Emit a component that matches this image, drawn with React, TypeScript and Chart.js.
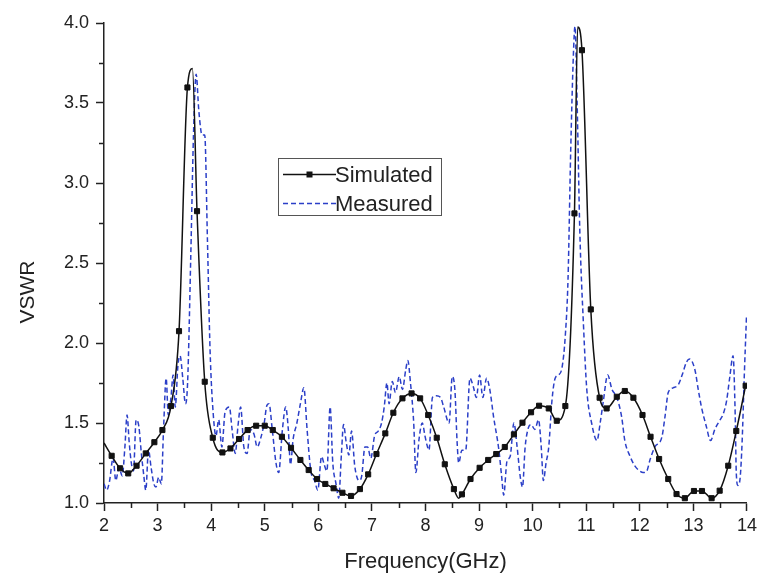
import React, { useEffect, useRef } from "react";
import { Chart, registerables } from "chart.js";

Chart.register(...registerables);

const FONT = "'Liberation Sans', Arial, Helvetica, sans-serif";
const AXIS = "#222";
const SIM_COLOR = "#111";
const MEAS_COLOR = "#2b3fc8";

// Simulated VSWR (frequency in GHz); marker flag 1 = drawn square marker
const simFreq = [
  2.0, 2.143, 2.3, 2.452, 2.608, 2.78, 2.94, 3.09, 3.25, 3.4, 3.557, 3.65, 3.736, 3.88,
  4.03, 4.21, 4.36, 4.52, 4.68, 4.84, 5.0, 5.15, 5.32, 5.49, 5.665, 5.82, 5.976, 6.13,
  6.285, 6.45, 6.61, 6.776, 6.93, 7.085, 7.25, 7.4, 7.57, 7.74, 7.9, 8.05, 8.21, 8.36,
  8.53, 8.62, 8.68, 8.84, 9.01, 9.17, 9.32, 9.48, 9.65, 9.81, 9.97, 10.12, 10.3, 10.45,
  10.61, 10.78, 10.84, 10.92, 11.085, 11.25, 11.38, 11.57, 11.72, 11.88, 12.05, 12.2,
  12.36, 12.53, 12.685, 12.84, 13.01, 13.16, 13.34, 13.49, 13.65, 13.8, 13.975,
];
const simVswr = [
  1.375, 1.295, 1.217, 1.185, 1.233, 1.31, 1.38, 1.456, 1.606, 2.074, 3.597, 3.715, 2.824, 1.758,
  1.408, 1.316, 1.341, 1.4, 1.456, 1.483, 1.483, 1.456, 1.414, 1.345, 1.269, 1.206, 1.15, 1.119,
  1.092, 1.064, 1.044, 1.087, 1.179, 1.306, 1.435, 1.564, 1.654, 1.685, 1.654, 1.55, 1.408, 1.242,
  1.087, 1.03, 1.054, 1.15, 1.22, 1.269, 1.306, 1.35, 1.429, 1.502, 1.567, 1.608, 1.591, 1.514,
  1.606, 2.81, 3.975, 3.83, 2.21, 1.658, 1.591, 1.664, 1.7, 1.658, 1.55, 1.414,
  1.275, 1.15, 1.056, 1.03, 1.075, 1.075, 1.03, 1.077, 1.233, 1.45, 1.733,
];
const simMarker = [
  0, 1, 1, 1, 1, 1, 1, 1, 1, 1, 1, 0, 1, 1,
  1, 1, 1, 1, 1, 1, 1, 1, 1, 1, 1, 1, 1, 1,
  1, 1, 1, 1, 1, 1, 1, 1, 1, 1, 1, 1, 1, 1,
  1, 0, 1, 1, 1, 1, 1, 1, 1, 1, 1, 1, 1, 1,
  1, 1, 0, 1, 1, 1, 1, 1, 1, 1, 1, 1,
  1, 1, 1, 1, 1, 1, 1, 1, 1, 1, 1,
];

// Measured VSWR
const measFreq = [
  2.0, 2.05, 2.1, 2.17, 2.22, 2.28, 2.34, 2.39, 2.43, 2.47, 2.51, 2.55, 2.6, 2.65, 2.7, 2.74,
  2.78, 2.83, 2.88, 2.93, 2.97, 3.02, 3.07, 3.11, 3.16, 3.2, 3.25, 3.29, 3.33, 3.38, 3.42, 3.47,
  3.52, 3.56, 3.62, 3.67, 3.72, 3.77, 3.83, 3.88, 3.93, 3.98, 4.04, 4.09, 4.14, 4.2, 4.26, 4.34,
  4.39, 4.45, 4.5, 4.55, 4.61, 4.67, 4.73, 4.8, 4.86, 4.92, 4.99, 5.04, 5.08, 5.14, 5.21, 5.26,
  5.33, 5.39, 5.44, 5.48, 5.53, 5.6, 5.665, 5.73, 5.79, 5.86, 5.93, 5.99, 6.06, 6.11, 6.16, 6.22,
  6.27, 6.33, 6.38, 6.43, 6.47, 6.52, 6.57, 6.62, 6.68, 6.76, 6.81, 6.87, 6.92, 6.98, 7.05, 7.12,
  7.18, 7.23, 7.28, 7.32, 7.38, 7.44, 7.51, 7.57, 7.63, 7.67, 7.72, 7.78, 7.82, 7.88, 7.94, 7.99,
  8.03, 8.065, 8.13, 8.2, 8.28, 8.34, 8.44, 8.5, 8.55, 8.59, 8.62, 8.68, 8.75, 8.83, 8.89, 8.95,
  9.01, 9.07, 9.14, 9.2, 9.27, 9.37, 9.42, 9.46, 9.52, 9.58, 9.65, 9.71, 9.77, 9.81, 9.86, 9.92,
  9.97, 10.04, 10.11, 10.16, 10.2, 10.25, 10.3, 10.36, 10.42, 10.48, 10.55, 10.61, 10.66, 10.71,
  10.76, 10.79, 10.83, 10.88, 10.95, 11.01, 11.1, 11.2, 11.26, 11.32, 11.4, 11.48, 11.57, 11.66,
  11.72, 11.82, 11.91, 12.0, 12.06, 12.13, 12.19, 12.28, 12.41, 12.47, 12.53, 12.62, 12.72, 12.8,
  12.87, 12.93, 13.03, 13.09, 13.15, 13.24, 13.32, 13.4, 13.48, 13.56, 13.62, 13.68, 13.74, 13.78,
  13.8, 13.83, 13.87, 13.91, 13.95, 13.99,
];
const measVswr = [
  1.12, 1.08, 1.13, 1.28, 1.14, 1.22, 1.17, 1.35, 1.55, 1.38, 1.25, 1.2, 1.52, 1.48, 1.3, 1.18,
  1.08, 1.33, 1.22, 1.12, 1.1, 1.16, 1.12, 1.45, 1.78, 1.55, 1.66, 1.8, 1.6, 1.86, 1.92, 1.78,
  1.62, 1.75, 2.55, 3.3, 3.68, 3.45, 3.3, 3.3, 2.65, 1.95, 1.55, 1.42, 1.52, 1.35, 1.57, 1.6,
  1.46, 1.31, 1.48, 1.6, 1.35, 1.31, 1.46, 1.43, 1.35, 1.4, 1.5, 1.61, 1.62, 1.46, 1.25, 1.19,
  1.46, 1.6, 1.46, 1.24, 1.4, 1.5, 1.62, 1.72, 1.46, 1.2, 1.14, 1.08, 1.29, 1.24, 1.2, 1.6,
  1.25, 1.12, 1.03, 1.3, 1.49, 1.38, 1.3, 1.45, 1.23, 1.14, 1.17, 1.35, 1.35, 1.28, 1.42, 1.45,
  1.5, 1.6, 1.75, 1.62, 1.76, 1.69, 1.79, 1.71, 1.83, 1.89, 1.75, 1.5, 1.19, 1.4, 1.5, 1.42,
  1.36, 1.33, 1.66, 1.67, 1.66, 1.6, 1.5, 1.79, 1.7, 1.38, 1.25, 1.33, 1.33, 1.78, 1.73, 1.66,
  1.8, 1.66, 1.78, 1.71, 1.54, 1.33, 1.17, 1.05, 1.26, 1.29, 1.5, 1.35, 1.16, 1.1, 1.35, 1.47,
  1.49, 1.46, 1.52, 1.35, 1.14, 1.25, 1.35, 1.64, 1.78, 1.8, 1.85, 2.05, 2.4, 3.2,
  3.8, 3.98, 3.5, 2.7, 2.1, 1.71, 1.5, 1.39, 1.5, 1.64, 1.8, 1.71, 1.66, 1.54,
  1.39, 1.29, 1.23, 1.2, 1.19, 1.2, 1.27, 1.35, 1.41, 1.54, 1.69, 1.72, 1.74, 1.81,
  1.88, 1.9, 1.83, 1.71, 1.6, 1.48, 1.39, 1.46, 1.51, 1.56, 1.64, 1.79, 1.92, 1.55,
  1.19, 1.11, 1.15, 1.39, 1.8, 2.16,
];

const xTickLabels = ["2", "3", "4", "5", "6", "7", "8", "9", "10", "11", "12", "13", "14"];
const yTickLabels = ["1.0", "1.5", "2.0", "2.5", "3.0", "3.5", "4.0"];
const X_MIN = 2;
const X_MAX = 14;
const Y_MIN = 1;
const Y_MAX = 4;

const near = (a: number, b: number) => Math.abs(a - b) < 1e-6;
const xMajor = (v: number) => near(v, Math.round(v));
const yMajor = (v: number) => near(v * 2, Math.round(v * 2));

const decorPlugin = {
  id: "decor",
  afterDraw(chart: any) {
    const { ctx, chartArea, scales } = chart;
    const xs = scales.x;
    const ys = scales.y;
    ctx.save();
    // minor ticks
    ctx.strokeStyle = AXIS;
    ctx.lineWidth = 1.5;
    ctx.beginPath();
    for (let v = X_MIN + 0.5; v < X_MAX; v += 1) {
      const px = Math.round(xs.getPixelForValue(v)) + 0.5;
      ctx.moveTo(px, chartArea.bottom);
      ctx.lineTo(px, chartArea.bottom + 5);
    }
    for (let v = Y_MIN + 0.25; v < Y_MAX; v += 0.5) {
      const py = Math.round(ys.getPixelForValue(v)) + 0.5;
      ctx.moveTo(chartArea.left - 5, py);
      ctx.lineTo(chartArea.left, py);
    }
    ctx.stroke();

    // y axis title
    ctx.save();
    ctx.translate(28, 292);
    ctx.rotate(-Math.PI / 2);
    ctx.fillStyle = AXIS;
    ctx.font = `21px ${FONT}`;
    ctx.textAlign = "center";
    ctx.textBaseline = "middle";
    ctx.fillText("VSWR", 0, 0);
    ctx.restore();

    // legend
    const bx = 278.5, by = 158.5, bw = 163, bh = 57;
    ctx.strokeStyle = "#555";
    ctx.lineWidth = 1;
    ctx.strokeRect(bx, by, bw, bh);
    const r1 = 174.5, r2 = 203.5;
    const lx0 = 283, lx1 = 336;
    ctx.strokeStyle = SIM_COLOR;
    ctx.lineWidth = 1.5;
    ctx.setLineDash([]);
    ctx.beginPath();
    ctx.moveTo(lx0, r1);
    ctx.lineTo(lx1, r1);
    ctx.stroke();
    ctx.fillStyle = SIM_COLOR;
    ctx.fillRect(309.5 - 3, r1 - 3, 6, 6);
    ctx.strokeStyle = MEAS_COLOR;
    ctx.setLineDash([5, 3]);
    ctx.beginPath();
    ctx.moveTo(lx0, r2);
    ctx.lineTo(lx1, r2);
    ctx.stroke();
    ctx.setLineDash([]);
    ctx.fillStyle = AXIS;
    ctx.font = `22px ${FONT}`;
    ctx.textAlign = "left";
    ctx.textBaseline = "middle";
    ctx.fillText("Simulated", 335, r1 + 1);
    ctx.fillText("Measured", 335, r2 + 1);
    ctx.restore();
  },
};

export default function App() {
  const canvasRef = useRef<HTMLCanvasElement | null>(null);

  useEffect(() => {
    const canvas = canvasRef.current;
    if (!canvas) return;
    const simData = simFreq.map((x, i) => ({ x, y: simVswr[i] }));
    const measData = measFreq.map((x, i) => ({ x, y: measVswr[i] }));

    const chart = new Chart(canvas, {
      type: "line",
      data: {
        datasets: [
          {
            label: "Simulated",
            data: simData,
            borderColor: SIM_COLOR,
            backgroundColor: SIM_COLOR,
            borderWidth: 1.5,
            cubicInterpolationMode: "monotone",
            pointStyle: "rect",
            pointRadius: simMarker.map((m) => (m ? 3.6 : 0)),
            pointBackgroundColor: SIM_COLOR,
            pointBorderColor: SIM_COLOR,
            pointBorderWidth: 1,
            fill: false,
          },
          {
            label: "Measured",
            data: measData,
            borderColor: MEAS_COLOR,
            backgroundColor: MEAS_COLOR,
            borderWidth: 1.5,
            borderDash: [5, 3],
            cubicInterpolationMode: "monotone",
            pointRadius: 0,
            fill: false,
          },
        ],
      },
      options: {
        responsive: false,
        animation: false,
        devicePixelRatio: 1,
        layout: { padding: { top: 23, right: 12, left: 0, bottom: 0 } },
        plugins: {
          legend: { display: false },
          tooltip: { enabled: false },
          title: { display: false },
        },
        scales: {
          x: {
            type: "linear",
            min: X_MIN,
            max: X_MAX,
            afterFit: (s: any) => {
              s.height = 72;
            },
            border: { display: true, color: AXIS, width: 1.5 },
            grid: {
              drawOnChartArea: false,
              drawTicks: true,
              tickLength: 8,
              tickWidth: 1.5,
              tickColor: (c: any) => (c.tick && xMajor(c.tick.value) ? AXIS : "rgba(0,0,0,0)"),
            },
            ticks: {
              stepSize: 0.5,
              autoSkip: false,
              maxRotation: 0,
              padding: 4,
              color: AXIS,
              font: { family: FONT, size: 18 },
              callback: (v: any) => {
                const n = Number(v);
                if (!xMajor(n)) return "";
                return xTickLabels[Math.round(n) - X_MIN] ?? "";
              },
            },
            title: {
              display: true,
              text: "Frequency(GHz)",
              color: AXIS,
              font: { family: FONT, size: 22 },
              padding: { top: 2, bottom: 0 },
            },
          },
          y: {
            type: "linear",
            min: Y_MIN,
            max: Y_MAX,
            afterFit: (s: any) => {
              s.width = 104;
            },
            border: { display: true, color: AXIS, width: 1.5 },
            grid: {
              drawOnChartArea: false,
              drawTicks: true,
              tickLength: 8,
              tickWidth: 1.5,
              tickColor: (c: any) => (c.tick && yMajor(c.tick.value) ? AXIS : "rgba(0,0,0,0)"),
            },
            ticks: {
              stepSize: 0.25,
              autoSkip: false,
              padding: 7,
              color: AXIS,
              font: { family: FONT, size: 18 },
              callback: (v: any) => {
                const n = Number(v);
                if (!yMajor(n)) return "";
                return yTickLabels[Math.round((n - Y_MIN) * 2)] ?? "";
              },
            },
          },
        },
      },
      plugins: [decorPlugin],
    });

    return () => {
      chart.destroy();
    };
  }, []);

  return (
    <div style={{ position: "absolute", left: 0, top: 0, width: 761, height: 575, background: "#fff" }}>
      <canvas ref={canvasRef} width={761} height={575} style={{ display: "block" }} />
    </div>
  );
}
